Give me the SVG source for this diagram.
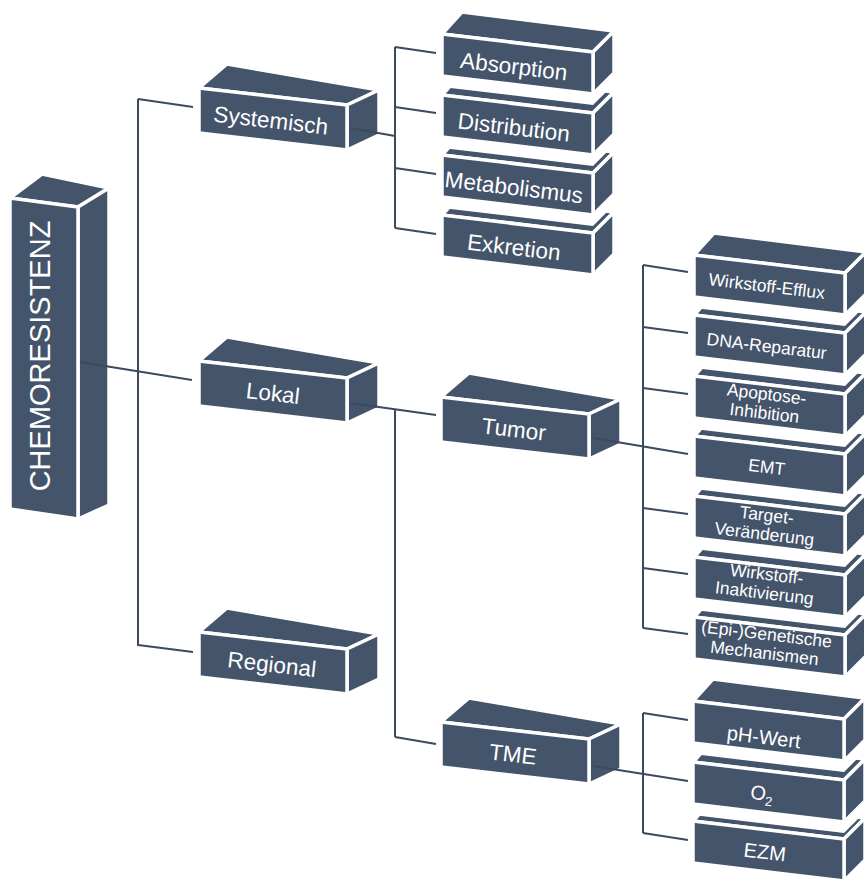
<svg xmlns="http://www.w3.org/2000/svg" xmlns:xlink="http://www.w3.org/1999/xlink" width="864" height="880" viewBox="0 0 864 880">
<style>
.t{font-family:"Liberation Sans",Arial,sans-serif;fill:#fff;text-anchor:middle}
.l1{font-size:22.5px}
.l3{font-size:17.5px}
.l4{font-size:20px}
.c{fill:none;stroke:#3C4A5E;stroke-width:2}
</style>
<defs>
<g id="big" fill="#44546A" stroke="#fff" stroke-width="3.5">
<polygon points="0,0 28,-24 180,2 148,17"/>
<polygon points="148,17 180,2 180,47 148,62"/>
<polygon points="0,0 148,17 148,62 0,45"/>
</g>
<g id="small" fill="#44546A" stroke="#fff" stroke-width="3.5">
<polygon fill="#fff" stroke="none" points="0,42 151,60 172,39 172,50 151,71 0,53"/>
<polygon points="0,0 20,-22 172,-3 151,18"/>
<polygon points="151,18 172,-3 172,39 151,60"/>
<polygon points="0,0 151,18 151,60 0,42"/>
</g>
</defs>
<rect width="864" height="880" fill="#fff"/>

<g id="chemoresistenz">
<g fill="#44546A" stroke="#fff" stroke-width="3.5">
<polygon points="10,198 42,174 109,188 78,207"/>
<polygon points="78,207 109,188 109,505 78,519"/>
<polygon points="10,198 78,207 78,519 10,509"/>
</g>
<text class="t" font-size="29" transform="translate(50,356) rotate(-90)">CHEMORESISTENZ</text>
</g>

<g id="systemisch"><use xlink:href="#big" transform="translate(199,88)"/><text class="t l1" transform="rotate(6.6 270 128)" x="270" y="128">Systemisch</text></g>
<g id="lokal"><use xlink:href="#big" transform="translate(199,361)"/><text class="t l1" transform="rotate(6.6 272 401)" x="272" y="401">Lokal</text></g>
<g id="regional"><use xlink:href="#big" transform="translate(199,632)"/><text class="t l1" transform="rotate(6.6 271 672)" x="271" y="672">Regional</text></g>
<g id="tumor"><use xlink:href="#big" transform="translate(441,397)"/><text class="t l1" transform="rotate(6.6 513 437)" x="513" y="437">Tumor</text></g>
<g id="tme"><use xlink:href="#big" transform="translate(441,722)"/><text class="t l1" transform="rotate(6.6 512 762)" x="512" y="762">TME</text></g>

<g id="exkretion"><use xlink:href="#small" transform="translate(442,215)"/><text class="t l1" transform="rotate(6.8 513 255)" x="513" y="255">Exkretion</text></g>
<g id="metabolismus"><use xlink:href="#small" transform="translate(442,155)"/><text class="t l1" transform="rotate(6.8 513 195)" x="513" y="195">Metabolismus</text></g>
<g id="distribution"><use xlink:href="#small" transform="translate(442,95)"/><text class="t l1" transform="rotate(6.8 513 135)" x="513" y="135">Distribution</text></g>
<g id="absorption"><use xlink:href="#small" transform="translate(442,34)"/><text class="t l1" transform="rotate(6.8 513 74)" x="513" y="74">Absorption</text></g>

<g id="ezm"><use xlink:href="#small" transform="translate(693,821)"/><text class="t l4" transform="rotate(6.8 764 859)" x="764" y="859">EZM</text></g>
<g id="o2"><use xlink:href="#small" transform="translate(693,762)"/><text class="t l4" transform="rotate(6.8 761 800)" x="761" y="800">O<tspan font-size="13" dy="5">2</tspan></text></g>
<g id="ph-wert"><use xlink:href="#small" transform="translate(693,701)"/><text class="t l4" transform="rotate(6.8 763 744)" x="763" y="744">pH-Wert</text></g>

<g id="epigenetische"><use xlink:href="#small" transform="translate(694,617)"/><text class="t l3" transform="rotate(6.8 766 640)" x="766" y="640">(Epi-)Genetische<tspan x="766" dy="19">Mechanismen</tspan></text></g>
<g id="inaktivierung"><use xlink:href="#small" transform="translate(694,557)"/><text class="t l3" transform="rotate(6.8 766 580)" x="766" y="580">Wirkstoff-<tspan x="766" dy="19">Inaktivierung</tspan></text></g>
<g id="target"><use xlink:href="#small" transform="translate(694,496)"/><text class="t l3" transform="rotate(6.8 766 521)" x="766" y="521">Target-<tspan x="766" dy="19">Veränderung</tspan></text></g>
<g id="emt"><use xlink:href="#small" transform="translate(694,436)"/><text class="t l3" transform="rotate(6.8 766 473)" x="766" y="473">EMT</text></g>
<g id="apoptose"><use xlink:href="#small" transform="translate(694,376)"/><text class="t l3" transform="rotate(6.8 766 400)" x="766" y="400">Apoptose-<tspan x="766" dy="19">Inhibition</tspan></text></g>
<g id="dna-reparatur"><use xlink:href="#small" transform="translate(694,315)"/><text class="t l3" transform="rotate(6.8 766 352)" x="766" y="352">DNA-Reparatur</text></g>
<g id="efflux"><use xlink:href="#small" transform="translate(694,255)"/><text class="t l3" transform="rotate(6.8 766 292)" x="766" y="292">Wirkstoff-Efflux</text></g>

<g id="connectors" class="c">
<line x1="80" y1="362" x2="192" y2="380"/>
<line x1="138" y1="99" x2="138" y2="646"/>
<line x1="138" y1="99" x2="193" y2="107"/>
<line x1="138" y1="645" x2="193" y2="652"/>
<line x1="350" y1="128" x2="395" y2="136"/>
<line x1="395" y1="47" x2="395" y2="228"/>
<line x1="395" y1="47" x2="436" y2="53"/>
<line x1="395" y1="107" x2="436" y2="113"/>
<line x1="395" y1="168" x2="436" y2="174"/>
<line x1="395" y1="228" x2="436" y2="234"/>
<line x1="350" y1="403" x2="436" y2="415"/>
<line x1="395" y1="409" x2="395" y2="737"/>
<line x1="395" y1="737" x2="436" y2="744"/>
<line x1="593" y1="438" x2="688" y2="454"/>
<line x1="643" y1="265" x2="643" y2="628"/>
<line x1="643" y1="265" x2="688" y2="272"/>
<line x1="643" y1="327" x2="688" y2="333"/>
<line x1="643" y1="388" x2="688" y2="394"/>
<line x1="643" y1="508" x2="688" y2="514"/>
<line x1="643" y1="568" x2="688" y2="574"/>
<line x1="643" y1="628" x2="688" y2="634"/>
<line x1="593" y1="766" x2="688" y2="781"/>
<line x1="643" y1="713" x2="643" y2="833"/>
<line x1="643" y1="713" x2="688" y2="720"/>
<line x1="643" y1="833" x2="688" y2="840"/>
</g>
</svg>
